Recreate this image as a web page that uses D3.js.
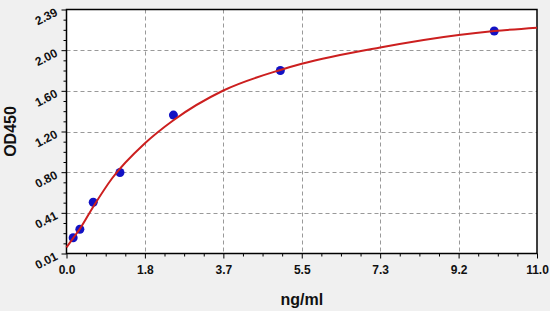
<!DOCTYPE html>
<html>
<head>
<meta charset="utf-8">
<script src="https://cdn.jsdelivr.net/npm/d3@7"></script>
<style>
  html, body { margin: 0; padding: 0; background: #f0f0f0; }
  svg { display: block; }
  text { font-family: "Liberation Sans", Arial, sans-serif; font-weight: bold; fill: #111; }
</style>
</head>
<body>
<script>
// chart size
var wW = 550;
var wH = 311;

// standards (concentration, OD)
var stdConc = [0.156, 0.3125, 0.625, 1.25, 2.5, 5, 10];
var stdOD = [0.164, 0.246, 0.51, 0.80, 1.36, 1.795, 2.18];

// fitted curve
var fitConc = [0, 0.156, 0.3125, 0.625, 1.067, 1.833, 2.5, 3.667, 5, 5.5, 7.333, 9.167, 10, 11];
var fitOD = [0.07, 0.16, 0.25, 0.466, 0.744, 1.085, 1.31, 1.6, 1.80, 1.86, 2.02, 2.142, 2.18, 2.213];

// axis ticks
var xTicks = [0, 1.833, 3.667, 5.5, 7.333, 9.167, 11];
var xTickLabels = ['0.0', '1.8', '3.7', '5.5', '7.3', '9.2', '11.0'];
var yTicks = [0.01, 0.4067, 0.8033, 1.2, 1.5967, 1.9933, 2.39];
var yTickLabels = ['0.01', '0.41', '0.80', '1.20', '1.60', '2.00', '2.39'];

var m = { left: 66.5, right: 537, top: 9.5, bottom: 253.5 };

var svg = d3.select('body').append('svg')
  .attr('width', wW)
  .attr('height', wH);

var x = d3.scaleLinear().domain([0, 11]).range([m.left, m.right]);
var y = d3.scaleLinear().domain([0.01, 2.39]).range([m.bottom, m.top]);

// plot background
svg.append('rect')
  .attr('x', m.left).attr('y', m.top)
  .attr('width', m.right - m.left).attr('height', m.bottom - m.top)
  .attr('fill', 'white');

// dashed grid
var grid = svg.append('g')
  .attr('stroke', '#999')
  .attr('stroke-width', 1)
  .attr('stroke-dasharray', '4,3');

grid.selectAll('.gx').data(xTicks.slice(1, -1)).enter().append('line')
  .attr('x1', d => Math.round(x(d)) + 0.5).attr('x2', d => Math.round(x(d)) + 0.5)
  .attr('y1', m.top).attr('y2', m.bottom);

grid.selectAll('.gy').data(yTicks.slice(1, -1)).enter().append('line')
  .attr('y1', d => Math.round(y(d)) + 0.5).attr('y2', d => Math.round(y(d)) + 0.5)
  .attr('x1', m.left).attr('x2', m.right);

// minor ticks: 3 between each pair of major ticks
var minor = (ticks) => {
  var out = [];
  for (var i = 0; i < ticks.length - 1; i++) {
    for (var k = 1; k < 4; k++) out.push(ticks[i] + (ticks[i + 1] - ticks[i]) * k / 4);
  }
  return out;
};

// x axis
var xAxis = svg.append('g').attr('transform', 'translate(0,' + m.bottom + ')');
xAxis.append('g').call(d3.axisBottom(x).tickValues(xTicks).tickSize(5).tickFormat((d, i) => xTickLabels[i]))
  .call(g => g.select('.domain').remove())
  .call(g => g.selectAll('text').attr('dy', '1.05em').style('font-size', '12px').style('font-family', '"Liberation Sans", Arial, sans-serif').style('font-weight', 'bold'));
xAxis.append('g').call(d3.axisBottom(x).tickValues(minor(xTicks)).tickSize(3).tickFormat(''))
  .call(g => g.select('.domain').remove());

// y axis
var yAxis = svg.append('g').attr('transform', 'translate(' + m.left + ',0)');
yAxis.append('g').call(d3.axisLeft(y).tickValues(yTicks).tickSize(5).tickFormat((d, i) => yTickLabels[i]))
  .call(g => g.select('.domain').remove())
  .call(g => g.selectAll('text')
    .attr('x', null).attr('dy', null)
    .attr('transform', 'translate(-8,5) rotate(-27)')
    .style('font-size', '12px').style('font-family', '"Liberation Sans", Arial, sans-serif').style('font-weight', 'bold'));
yAxis.append('g').call(d3.axisLeft(y).tickValues(minor(yTicks)).tickSize(3).tickFormat(''))
  .call(g => g.select('.domain').remove());

// frame
svg.append('rect')
  .attr('x', m.left).attr('y', m.top)
  .attr('width', m.right - m.left).attr('height', m.bottom - m.top)
  .attr('fill', 'none')
  .attr('stroke', 'black')
  .attr('stroke-width', 1.5);

// standard points
svg.append('g').selectAll('circle').data(stdConc).enter().append('circle')
  .attr('cx', d => x(d))
  .attr('cy', (d, i) => y(stdOD[i]))
  .attr('r', 4.5)
  .attr('fill', '#1212c4');

// fitted curve
var line = d3.line()
  .x(d => x(d))
  .y((d, i) => y(fitOD[i]))
  .curve(d3.curveMonotoneX);

svg.append('path')
  .datum(fitConc)
  .attr('d', line)
  .attr('fill', 'none')
  .attr('stroke', '#cc1f1f')
  .attr('stroke-width', 2);

// axis titles
svg.append('text')
  .attr('x', (m.left + m.right) / 2)
  .attr('y', 305)
  .attr('text-anchor', 'middle')
  .style('font-size', '16px')
  .text('ng/ml');

svg.append('text')
  .attr('transform', 'translate(16,' + (m.top + m.bottom) / 2 + ') rotate(-90)')
  .attr('text-anchor', 'middle')
  .style('font-size', '16px')
  .text('OD450');
</script>
</body>
</html>
